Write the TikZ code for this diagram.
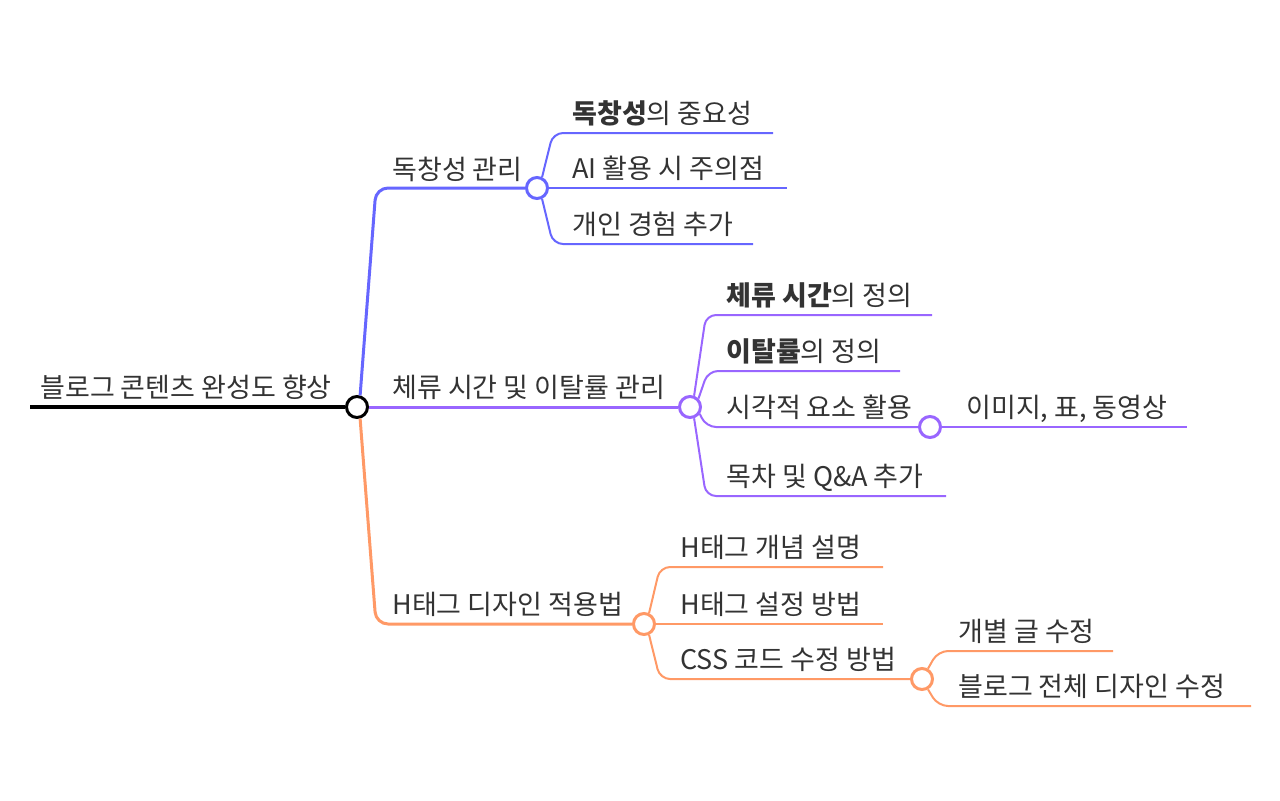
\documentclass[tikz,border=0pt]{standalone}
\usepackage{fontspec}
\setmainfont{Noto Sans CJK KR}
\usetikzlibrary{positioning}
\definecolor{bluebr}{HTML}{6666FF}
\definecolor{purplebr}{HTML}{9966FF}
\definecolor{orangebr}{HTML}{FF9966}
\definecolor{txt}{HTML}{333333}

\begin{document}
\begin{tikzpicture}[x=0.5pt, y=-0.5pt,
  label/.style={anchor=base west, inner sep=0pt, text=txt, font=\fontsize{13.5}{16}\selectfont},
  knot/.style={circle, draw, fill=white, line width=1.5pt, minimum size=10.5pt, inner sep=0pt},
  branch/.style={line width=1.5pt, rounded corners=6pt},
  twig/.style={line width=1pt, rounded corners=5pt}]
  \useasboundingbox (0,0) rectangle (1280,800);

  % knots
  \node[knot, draw=black] (k0) at (357,407) {};
  \node[knot, draw=bluebr] (k1) at (537,188) {};
  \node[knot, draw=purplebr] (k2) at (690,407) {};
  \node[knot, draw=purplebr] (k23) at (930,427) {};
  \node[knot, draw=orangebr] (k3) at (644,624) {};
  \node[knot, draw=orangebr] (k33) at (922,679) {};

  % root
  \coordinate (r0) at (30,407);
  \draw[line width=2pt] (r0) -- (k0.west);
  \node[label] (root) at (40,397) {블로그 콘텐츠 완성도 향상};

  % main branches
  \draw[branch, bluebr] (k0.75) -- (376,188) -- (k1.west);
  \draw[branch, purplebr] (k0.east) -- (k2.west);
  \draw[branch, orangebr] (k0.-75) -- (376,624) -- (k3.west);
  \node[label] (b1) at (392,179) {독창성 관리};
  \node[label] (b2) at (392,397) {체류 시간 및 이탈률 관리};
  \node[label] (b3) at (392,614) {H태그 디자인 적용법};

  % originality
  \coordinate (e11) at (773,133);
  \coordinate (e12) at (787,188);
  \coordinate (e13) at (753,244);
  \draw[twig, bluebr] (k1.65) -- (553,133) -- (e11);
  \draw[twig, bluebr] (k1.east) -- (e12);
  \draw[twig, bluebr] (k1.-65) -- (553,244) -- (e13);
  \node[label] (l11) at (572,123) {\textbf{독창성}의 중요성};
  \node[label] (l12) at (572,178) {AI 활용 시 주의점};
  \node[label] (l13) at (572,234) {개인 경험 추가};

  % stay time and bounce rate
  \coordinate (e21) at (932,315);
  \coordinate (e22) at (900,371);
  \coordinate (e24) at (946,496);
  \coordinate (e231) at (1187,427);
  \draw[twig, purplebr] (k2.70) -- (706,315) -- (e21);
  \draw[twig, purplebr] (k2.45) -- (708,371) -- (e22);
  \draw[twig, purplebr] (k2.-35) -- (706,427) -- (k23.west);
  \draw[twig, purplebr] (k2.-70) -- (706,496) -- (e24);
  \draw[twig, purplebr] (k23.east) -- (e231);
  \node[label] (l21) at (726,305) {\textbf{체류 시간}의 정의};
  \node[label] (l22) at (726,361) {\textbf{이탈률}의 정의};
  \node[label] (l23) at (726,417) {시각적 요소 활용};
  \node[label] (l24) at (726,486) {목차 및 Q\&A 추가};
  \node[label] (l231) at (966,417) {이미지, 표, 동영상};

  % H tags
  \coordinate (e31) at (883,567);
  \coordinate (e32) at (883,624);
  \coordinate (e331) at (1113,651);
  \coordinate (e332) at (1251,706);
  \draw[twig, orangebr] (k3.65) -- (660,567) -- (e31);
  \draw[twig, orangebr] (k3.east) -- (e32);
  \draw[twig, orangebr] (k3.-65) -- (660,679) -- (k33.west);
  \draw[twig, orangebr] (k33.60) -- (938,651) -- (e331);
  \draw[twig, orangebr] (k33.-60) -- (938,706) -- (e332);
  \node[label] (l31) at (680,557) {H태그 개념 설명};
  \node[label] (l32) at (680,614) {H태그 설정 방법};
  \node[label] (l33) at (680,669) {CSS 코드 수정 방법};
  \node[label] (l331) at (958,641) {개별 글 수정};
  \node[label] (l332) at (958,696) {블로그 전체 디자인 수정};
\end{tikzpicture}
\end{document}
